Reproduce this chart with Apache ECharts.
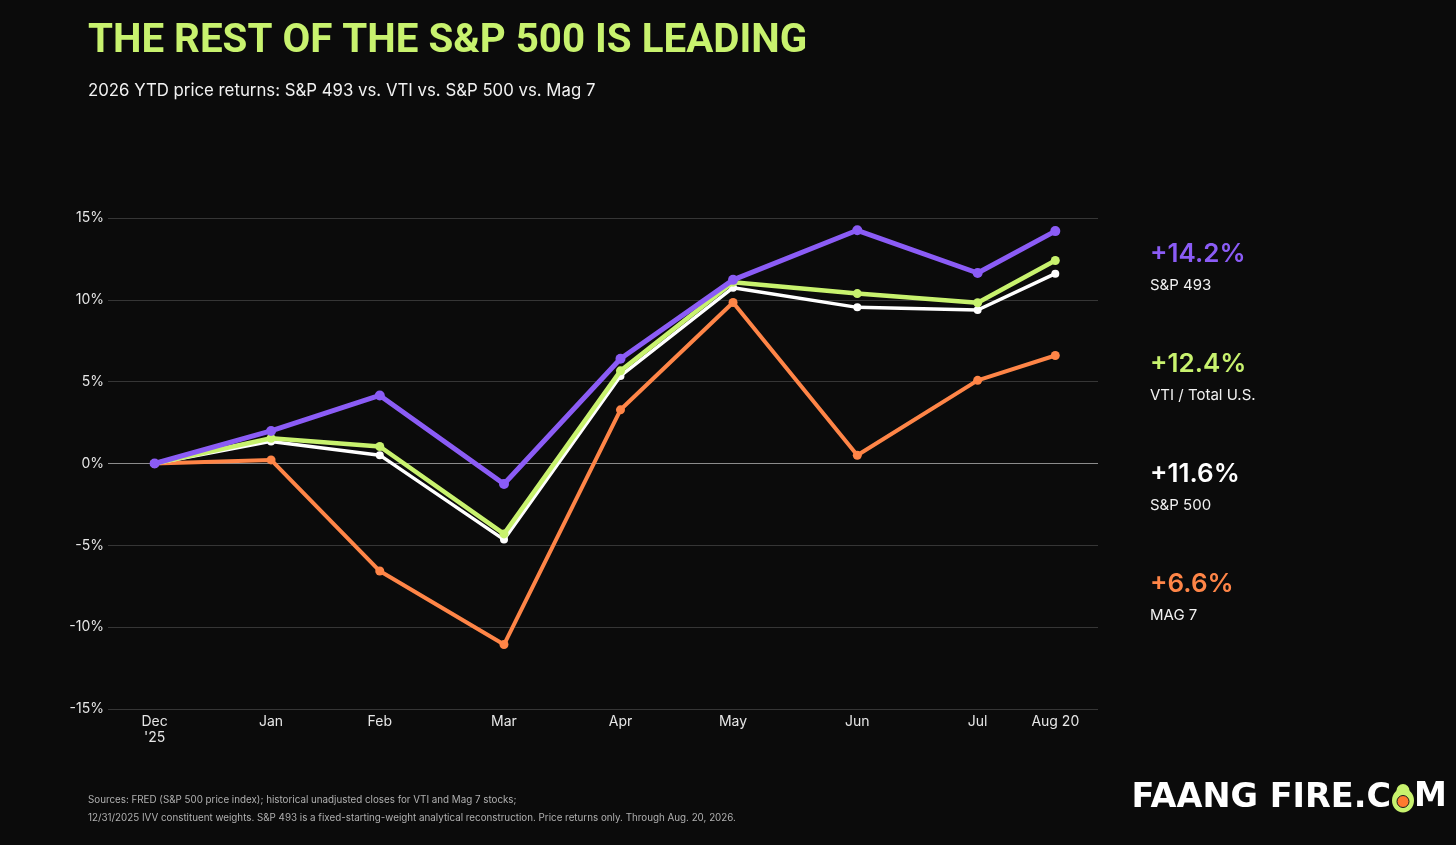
<!DOCTYPE html>
<html>
<head>
<meta charset="utf-8">
<script src="https://cdn.jsdelivr.net/npm/echarts@6/dist/echarts.min.js"></script>
<style>
  html, body { margin: 0; padding: 0; background: #0b0b0b; }
  #chart { width: 1456px; height: 845px; }
</style>
</head>
<body>
<div id="chart"></div>
<script>
// month-end closes (last trading day), YTD % returns
var dates = ['2025-12-31', '2026-01-30', '2026-02-27', '2026-03-31', '2026-04-30',
             '2026-05-29', '2026-06-30', '2026-07-31', '2026-08-20'];
var dateLabels = ["Dec\n'25", 'Jan', 'Feb', 'Mar', 'Apr', 'May', 'Jun', 'Jul', 'Aug 20'];

var sp493 = [0, 1.99, 4.16, -1.25, 6.4, 11.22, 14.25, 11.64, 14.2];
var vti   = [0, 1.54, 1.04, -4.3, 5.66, 11.08, 10.38, 9.82, 12.4];
var sp500 = [0, 1.35, 0.51, -4.65, 5.35, 10.74, 9.54, 9.38, 11.6];
var mag7  = [0, 0.22, -6.57, -11.06, 3.28, 9.84, 0.5, 5.08, 6.6];

var yTicks = [-15, -10, -5, 0, 5, 10, 15];

var names = ['S&P 493', 'VTI / Total U.S.', 'S&P 500', 'MAG 7'];
var finals = ['+14.2%', '+12.4%', '+11.6%', '+6.6%'];
var colors = ['#8b5cf6', '#c8f26e', '#ffffff', '#ff8547'];

var DAY = 86400000;
function ts(s) {
    var p = s.split('-');
    return Date.UTC(+p[0], p[1] - 1, +p[2]);
}
var times = dates.map(ts);

function pairs(vals) {
    return vals.map(function (v, i) { return [times[i], v]; });
}

var myChart = echarts.init(document.getElementById('chart'));

var font = 'Inter, "Noto Sans", sans-serif';

var graphics = [
    {
        type: 'text', left: 88, top: 22,
        style: {
            text: 'THE REST OF THE S&P 500 IS LEADING',
            fill: '#c8f26e', font: 'bold 40.3px Roboto, sans-serif'
        }
    },
    {
        type: 'text', left: 88, top: 82,
        style: {
            text: '2026 YTD price returns: S&P 493 vs. VTI vs. S&P 500 vs. Mag 7',
            fill: '#f2f2f2', font: '16.8px ' + font
        }
    },
    {
        type: 'text', left: 88, top: 795,
        style: {
            text: 'Sources: FRED (S&P 500 price index); historical unadjusted closes for VTI and Mag 7 stocks;',
            fill: '#b0b0b0', font: '9.8px ' + font
        }
    },
    {
        type: 'text', left: 88, top: 813,
        style: {
            text: '12/31/2025 IVV constituent weights. S&P 493 is a fixed-starting-weight analytical reconstruction. Price returns only. Through Aug. 20, 2026.',
            fill: '#b0b0b0', font: '9.8px ' + font
        }
    },
    // logo
    {
        type: 'text', right: 65, top: 781,
        style: { text: 'FAANG FIRE.C', fill: '#ffffff', font: 'bold 33.5px "DejaVu Sans", sans-serif' }
    },
    {
        type: 'group', left: 1392, top: 784,
        children: [
            { type: 'ellipse', shape: { cx: 12, cy: 18, rx: 11, ry: 12 }, style: { fill: '#c8f26e' } },
            { type: 'circle', shape: { cx: 12, cy: 8, r: 6.5 }, style: { fill: '#c8f26e' } },
            { type: 'circle', shape: { cx: 12, cy: 19, r: 6 }, style: { fill: '#ff7a2f', stroke: '#1a1a1a', lineWidth: 1 } }
        ]
    },
    {
        type: 'text', left: 1414, top: 781,
        style: { text: 'M', fill: '#ffffff', font: 'bold 33px "DejaVu Sans", sans-serif' }
    }
];

for (var i = 0; i < names.length; i++) {
    graphics.push({
        type: 'text', left: 1150, top: 241 + i * 110,
        style: { text: finals[i], fill: colors[i], font: '600 26px ' + font }
    });
    graphics.push({
        type: 'text', left: 1150, top: 278 + i * 110,
        style: { text: names[i], fill: '#f2f2f2', font: '15px ' + font }
    });
}

function line(name, vals, color, width, size, z) {
    return {
        name: name,
        type: 'line',
        data: pairs(vals),
        z: z,
        symbol: 'circle',
        symbolSize: size,
        lineStyle: { color: color, width: width },
        itemStyle: { color: color },
        emphasis: { disabled: true }
    };
}

var option = {
    backgroundColor: '#0b0b0b',
    animation: false,
    textStyle: { fontFamily: font },
    grid: { left: 108, right: 358, top: 218, bottom: 136 },
    xAxis: {
        type: 'value',
        min: times[0] - 12 * DAY,
        max: times[0] - 12 * DAY + 255 * DAY,
        axisLine: { show: false },
        axisTick: { show: false },
        splitLine: { show: false },
        axisLabel: {
            customValues: times,
            color: '#e6e6e6',
            fontSize: 14,
            margin: 5,
            lineHeight: 16,
            hideOverlap: false,
            formatter: function (v) {
                var i = times.indexOf(v);
                return i >= 0 ? dateLabels[i] : '';
            }
        }
    },
    yAxis: {
        type: 'value',
        min: yTicks[0],
        max: yTicks[yTicks.length - 1],
        interval: 5,
        axisLine: { show: false },
        axisTick: { show: false },
        axisLabel: {
            color: '#e6e6e6', fontSize: 14, margin: 4,
            formatter: '{value}%'
        },
        splitLine: {
            lineStyle: {
                color: yTicks.map(function (t) { return t === 0 ? '#8c8c8c' : '#363636'; }),
                width: 1
            }
        }
    },
    graphic: graphics,
    series: [
        line('MAG 7', mag7, colors[3], 4, 9, 2),
        line('S&P 500', sp500, colors[2], 3.5, 8, 3),
        line('VTI / Total U.S.', vti, colors[1], 4.5, 9, 4),
        line('S&P 493', sp493, colors[0], 5, 10, 5)
    ]
};

myChart.setOption(option);
</script>
</body>
</html>
